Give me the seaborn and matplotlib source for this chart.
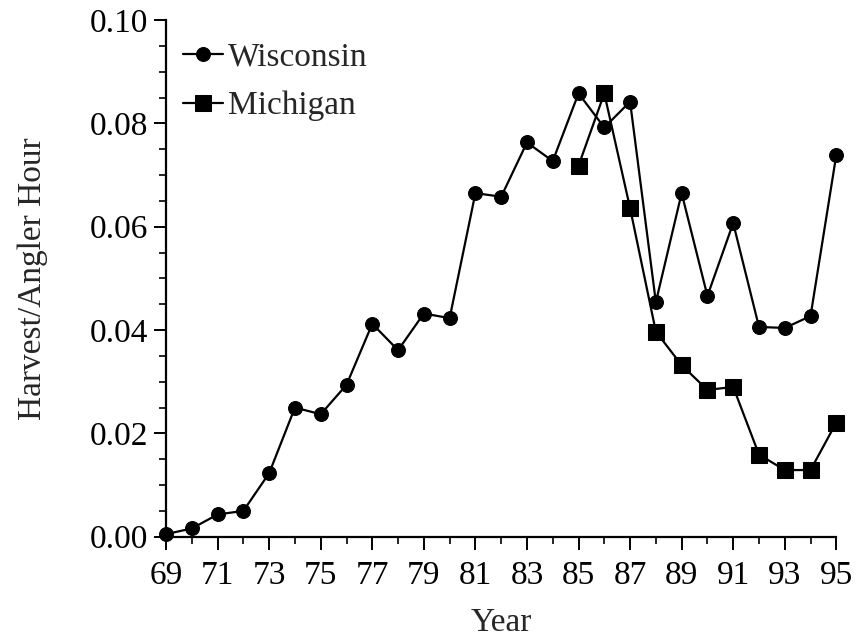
import matplotlib
matplotlib.use("Agg")
import matplotlib.pyplot as plt
from matplotlib.ticker import MultipleLocator, FormatStrFormatter
import seaborn as sns
import pandas as pd

# Harvest per angler hour by year
wi_years = list(range(69, 96))
wi_rate = [0.0005, 0.0016, 0.0043, 0.0050, 0.0123, 0.0250, 0.0237, 0.0294,
           0.0412, 0.0361, 0.0432, 0.0423, 0.0665, 0.0658, 0.0763, 0.0727,
           0.0858, 0.0792, 0.0842, 0.0454, 0.0665, 0.0466, 0.0607, 0.0406,
           0.0404, 0.0427, 0.0739]

mi_years = list(range(85, 96))
mi_rate = [0.0718, 0.0858, 0.0636, 0.0397, 0.0332, 0.0284, 0.0290, 0.0159,
           0.0129, 0.0129, 0.0221]

x_ticks = list(range(69, 96, 2))

sns.set_style("ticks")
plt.rcParams["font.family"] = ["Liberation Serif", "DejaVu Serif"]

fig = plt.figure(figsize=(8.56, 6.44), dpi=100)
ax = fig.add_axes([0.194, 0.1666, 0.783, 0.8023])

wi = pd.DataFrame({"Year": wi_years, "Rate": wi_rate})
mi = pd.DataFrame({"Year": mi_years, "Rate": mi_rate})

sns.lineplot(data=wi, x="Year", y="Rate", ax=ax, color="black", lw=1.6,
             marker="o", markersize=10, markeredgecolor="black",
             label="Wisconsin", clip_on=False, zorder=3)
sns.lineplot(data=mi, x="Year", y="Rate", ax=ax, color="black", lw=1.6,
             marker="s", markersize=12, markeredgecolor="black",
             label="Michigan", clip_on=False, zorder=3)

ax.set_xlim(69, 95)
ax.set_ylim(0, 0.10)
ax.set_xticks(x_ticks)
ax.set_xticklabels([str(t) for t in x_ticks])
ax.xaxis.set_minor_locator(MultipleLocator(1))
ax.yaxis.set_major_locator(MultipleLocator(0.02))
ax.yaxis.set_minor_locator(MultipleLocator(0.005))
ax.yaxis.set_major_formatter(FormatStrFormatter("%.2f"))

for side in ("top", "right"):
    ax.spines[side].set_visible(False)
for side in ("left", "bottom"):
    ax.spines[side].set_linewidth(1.6)
    ax.spines[side].set_color("black")

ax.tick_params(axis="both", which="major", direction="out", length=9,
               width=1.4, color="black", labelsize=24, labelcolor="black")
ax.tick_params(axis="x", which="major", pad=8)
ax.tick_params(axis="y", which="major", pad=4)
ax.tick_params(axis="both", which="minor", direction="out", length=5,
               width=1.2, color="black")

ax.set_xlabel("Year", fontsize=24, labelpad=12)
ax.set_ylabel("Harvest/Angler Hour", fontsize=24, labelpad=30)

leg = ax.legend(loc="upper left", bbox_to_anchor=(0.0, 0.99), frameon=False,
                fontsize=24, handlelength=1.2, handletextpad=0.15,
                labelspacing=0.55, borderaxespad=0.1)

fig.savefig("out.png", dpi=100, facecolor="white")
